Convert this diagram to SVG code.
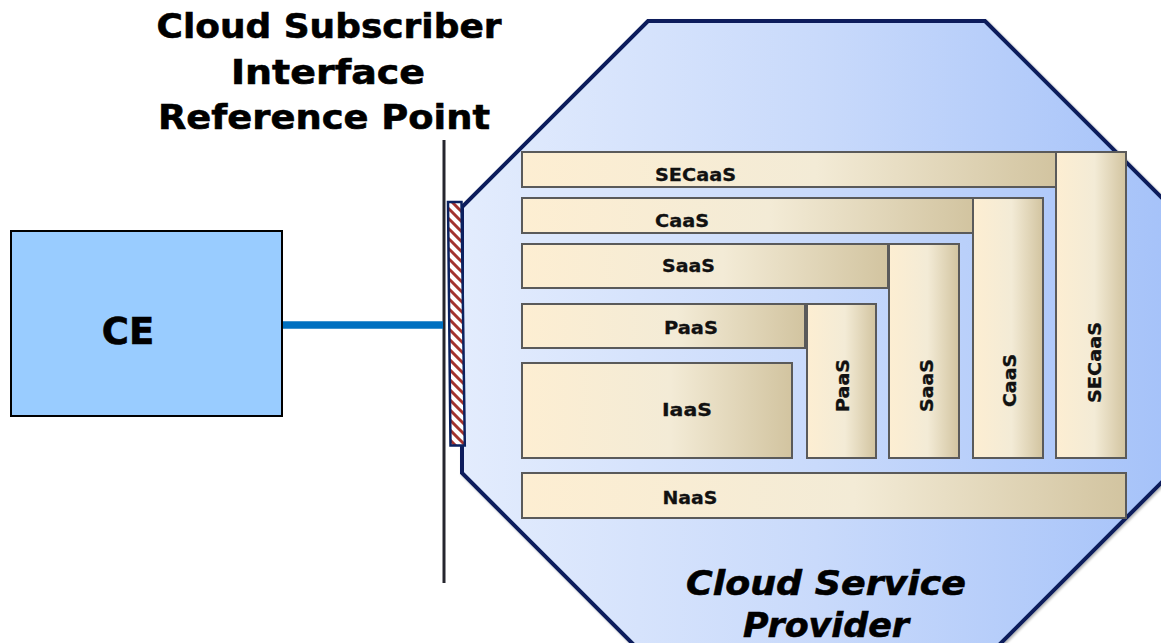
<svg xmlns="http://www.w3.org/2000/svg" width="1161" height="643" viewBox="0 0 1161 643">
  <defs>
    <linearGradient id="octFill" gradientUnits="userSpaceOnUse" x1="462" y1="0" x2="1171" y2="0">
      <stop offset="0" stop-color="#E3ECFD"/>
      <stop offset="0.5" stop-color="#C9DAFB"/>
      <stop offset="1" stop-color="#A5C2F9"/>
    </linearGradient>
    <linearGradient id="boxFill" x1="0" y1="0" x2="1" y2="0">
      <stop offset="0" stop-color="#FDEED2"/>
      <stop offset="0.55" stop-color="#F3EBD6"/>
      <stop offset="1" stop-color="#D2C4A0"/>
    </linearGradient>
    <pattern id="hatch" patternUnits="userSpaceOnUse" width="10" height="10">
      <rect width="10" height="10" fill="#FFFFFF"/>
      <path d="M-5,-5 L15,15 M-5,5 L5,15 M5,-5 L15,5" stroke="#A3332E" stroke-width="3"/>
    </pattern>
    <filter id="shadow" x="-5%" y="-5%" width="110%" height="110%">
      <feDropShadow dx="1.5" dy="1.5" stdDeviation="1.2" flood-color="#000000" flood-opacity="0.3"/>
    </filter>
  </defs>
  <style>
    .box { fill: url(#boxFill); stroke: #5A5A5A; stroke-width: 2; }
    .lbl { font-family: "DejaVu Sans", Verdana, sans-serif; font-weight: bold; font-size: 18px; fill: #111111; stroke: #111111; stroke-width: 0.3; text-anchor: middle; }
    .title { font-family: "DejaVu Sans", Verdana, sans-serif; font-weight: bold; font-size: 34px; fill: #000000; stroke: #000000; stroke-width: 0.6; text-anchor: middle; }
    .csp { font-family: "DejaVu Sans", Verdana, sans-serif; font-weight: bold; font-style: italic; font-size: 34px; fill: #000000; stroke: #000000; stroke-width: 0.6; text-anchor: middle; }
  </style>

  <g id="cloud-service-provider">
    <path d="M648,21 L985,21 L1171,207 L1171,473 L944,700 L689,700 L462,473 L462,207 Z" fill="url(#octFill)" stroke="#0A1F5C" stroke-width="4" stroke-linejoin="miter" filter="url(#shadow)"/>
    <text class="csp" x="826" y="595" textLength="280" lengthAdjust="spacingAndGlyphs">Cloud Service</text>
    <text class="csp" x="826" y="637" textLength="166" lengthAdjust="spacingAndGlyphs">Provider</text>
  </g>

  <g id="secaas-h">
    <rect class="box" x="522" y="152" width="534" height="35"/>
    <text class="lbl" x="695.5" y="181" textLength="81" lengthAdjust="spacingAndGlyphs">SECaaS</text>
  </g>
  <g id="secaas-v">
    <rect class="box" x="1056" y="152" width="70" height="306"/>
    <text class="lbl" transform="translate(1101,362.5) rotate(-90)" textLength="81" lengthAdjust="spacingAndGlyphs">SECaaS</text>
  </g>
  <g id="caas-h">
    <rect class="box" x="522" y="198" width="451" height="35"/>
    <text class="lbl" x="682" y="227" textLength="54" lengthAdjust="spacingAndGlyphs">CaaS</text>
  </g>
  <g id="caas-v">
    <rect class="box" x="973" y="198" width="70" height="260"/>
    <text class="lbl" transform="translate(1016,380.5) rotate(-90)" textLength="53" lengthAdjust="spacingAndGlyphs">CaaS</text>
  </g>
  <g id="saas-h">
    <rect class="box" x="522" y="244" width="366" height="44"/>
    <text class="lbl" x="688.5" y="272" textLength="53" lengthAdjust="spacingAndGlyphs">SaaS</text>
  </g>
  <g id="saas-v">
    <rect class="box" x="889" y="244" width="70" height="214"/>
    <text class="lbl" transform="translate(933,385.5) rotate(-90)" textLength="53" lengthAdjust="spacingAndGlyphs">SaaS</text>
  </g>
  <g id="paas-h">
    <rect class="box" x="522" y="304" width="283" height="44"/>
    <text class="lbl" x="691" y="334" textLength="54" lengthAdjust="spacingAndGlyphs">PaaS</text>
  </g>
  <g id="paas-v">
    <rect class="box" x="807" y="304" width="69" height="154"/>
    <text class="lbl" transform="translate(849,385.5) rotate(-90)" textLength="53" lengthAdjust="spacingAndGlyphs">PaaS</text>
  </g>
  <g id="iaas">
    <rect class="box" x="522" y="363" width="270" height="95"/>
    <text class="lbl" x="687" y="416" textLength="50" lengthAdjust="spacingAndGlyphs">IaaS</text>
  </g>
  <g id="naas">
    <rect class="box" x="522" y="473" width="604" height="45"/>
    <text class="lbl" x="690" y="504" textLength="55" lengthAdjust="spacingAndGlyphs">NaaS</text>
  </g>

  <g id="reference-point">
    <line x1="444" y1="140" x2="444" y2="583" stroke="#26262E" stroke-width="3"/>
    <text class="title" x="329" y="38" textLength="345" lengthAdjust="spacingAndGlyphs">Cloud Subscriber</text>
    <text class="title" x="328" y="84" textLength="194" lengthAdjust="spacingAndGlyphs">Interface</text>
    <text class="title" x="324" y="129" textLength="332" lengthAdjust="spacingAndGlyphs">Reference Point</text>
  </g>

  <g id="connectors">
    <line x1="282" y1="325" x2="443" y2="325" stroke="#0070C0" stroke-width="7.5"/>
  </g>

  <g id="interface-bar">
    <path d="M448,202 L461.5,202 L464.8,445.5 L450.5,445.5 Z" fill="url(#hatch)" stroke="#0B2160" stroke-width="2.5"/>
  </g>

  <g id="ce">
    <rect x="11" y="231" width="271" height="185" fill="#99CCFF" stroke="#000000" stroke-width="2"/>
    <text x="128" y="344" font-family="DejaVu Sans, Verdana, sans-serif" font-weight="bold" font-size="37" stroke="#000000" stroke-width="0.6" text-anchor="middle" fill="#000000">CE</text>
  </g>
</svg>
